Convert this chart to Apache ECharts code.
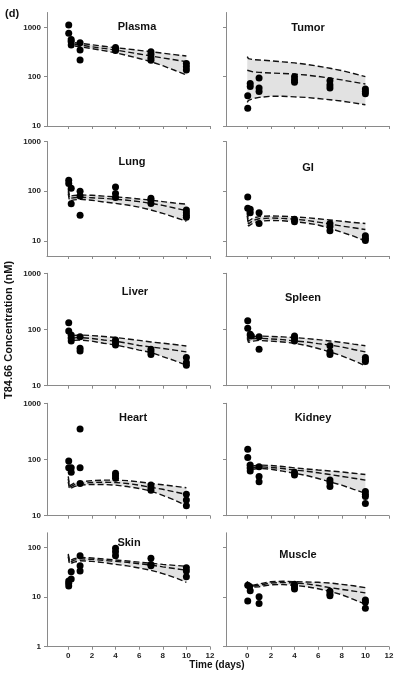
<!DOCTYPE html>
<html><head><meta charset="utf-8">
<script src="https://cdn.jsdelivr.net/npm/echarts@6/dist/echarts.min.js"></script>
<style>html,body{margin:0;padding:0;background:#fff}#c{width:400px;height:681px}</style>
</head><body><div id="c"></div>
<script>
// ---- data ----
const simTimes = [0, 0.1, 0.5, 1, 2, 3, 4, 5, 6, 7, 8, 9, 10];
const xTicks = [0, 2, 4, 6, 8, 10, 12];

const plasmaObs = [[0.04,1110],[0.04,755],[0.25,570],[0.25,510],[0.25,440],[1,487],[1,347],[1,218],[4,392],[4,360],[4,340],[7,320],[7,280],[7,240],[7,215],[10,186],[10,159],[10,136]];
const plasmaUpper = [600,520,490,474,443,414,387,364,342,321,300,280,262];
const plasmaMedian = [560,480,455,438,404,374,347,317,289,262,240,220,201];
const plasmaLower = [520,450,420,405,370,337,306,268,234,201,167,135,108];

const tumorObs = [[0.04,41],[0.04,23],[0.25,73],[0.25,63],[1,94],[1,59],[1,50],[4,100],[4,86],[4,77],[7,83],[7,68],[7,59],[10,56],[10,50],[10,45]];
const tumorUpper = [255,232,222,218,210,200,190,178,163,148,133,116,100];
const tumorMedian = [135,128,125,122,119,116,113,108,101,94,86,78,71];
const tumorLower = [30,33,36,38,40,40,39,38,36,34,32,29.5,27];

const lungObs = [[0.04,166],[0.04,143],[0.25,115],[0.25,56],[1,100],[1,80],[1,33],[4,122],[4,90],[4,75],[7,72],[7,66],[7,57],[10,42],[10,37],[10,33],[10,30]];
const lungUpper = [110,80,82,84,83,80,77,74,70,66,62,58,55];
const lungMedian = [100,72,74,76,74,72,69,66,62,57,52,46,41];
const lungLower = [90,64,67,69,66,61,57,53,48,42,36,30,25];

const giObs = [[0.04,77],[0.04,45.5],[0.25,43.5],[0.25,37],[1,37],[1,22.5],[4,27.5],[4,24.5],[7,22.5],[7,19.5],[7,16],[10,12.7],[10,11.4],[10,10.3]];
const giUpper = [40,25,29,31,32,31.5,30.5,29.5,28,26.5,25,23.5,22.5];
const giMedian = [36,22,26,28,29,28.5,27.5,26,24,22,20,18.5,17];
const giLower = [32,20,23,25,26,25.5,24.5,23,21,18,15,12.5,10];

const liverObs = [[0.04,132],[0.04,94],[0.25,80],[0.25,70],[0.25,62.5],[1,74],[1,46.5],[1,41.5],[4,65],[4,59],[4,53],[7,44.5],[7,40],[7,36],[10,31.6],[10,26],[10,23]];
const liverUpper = [90,76,78,80,78,75,72,68,64,60,57,54,51];
const liverMedian = [82,69,71,72,69,65,62,57,52,49,46,43,40];
const liverLower = [75,63,64,65,62,57,53,48,43,39,33,28,23];

const spleenObs = [[0.04,143],[0.04,105],[0.25,82],[0.35,77],[1,74],[1,44.5],[4,77],[4,70],[4,62.5],[7,51.5],[7,40],[7,36],[10,31.6],[10,29],[10,27]];
const spleenUpper = [80,70,74,77,75,74,72,69,66,62.5,59,55,51.5];
const spleenMedian = [75,64,68,70,68,66,62.5,60,56,53,49,44,40];
const spleenLower = [70,59,62,64,62,60,57,52,46,40,34,28,22.5];

const heartObs = [[0.04,94],[0.04,71],[0.25,71],[0.25,59.5],[1,349],[1,71],[1,37.5],[4,57],[4,51.5],[4,46.5],[7,35],[7,31.5],[7,28.5],[10,24],[10,19],[10,15]];
const heartUpper = [50,34,38,40,42,43,43,42,40,37.5,35.5,33.5,31.5];
const heartMedian = [45,32,35.5,37.5,39,39.5,39,37.5,35,32,29.5,26.5,24];
const heartLower = [40,30,33,35,36,36,35,33,30.5,27.5,23,19,15];

const kidneyObs = [[0.04,152],[0.04,108],[0.25,80],[0.25,70],[0.25,62.5],[1,74.5],[1,50],[1,40],[4,59.5],[4,53],[7,43],[7,38.5],[7,33],[10,27],[10,24],[10,22],[10,16.5]];
const kidneyUpper = [85,72,77,80,78,75,71,68,65,62.5,60,57,54];
const kidneyMedian = [80,68,72,74.5,72,69,65,62,58,54,50,46.5,43];
const kidneyLower = [75,64,67,70,67,62,57,52,46,40,35,29.5,25];

const skinObs = [[0.04,21.2],[0.04,19.1],[0.04,16.8],[0.25,23.3],[0.25,32.8],[1,69],[1,43.3],[1,33.8],[4,97],[4,83],[4,69],[7,61],[7,46],[7,43.3],[10,39.5],[10,33.8],[10,26]];
const skinUpper = [75,54,60,64,62,59,56.5,54,51,48.5,46,44,42];
const skinMedian = [70,50,56,60,58,55.5,53,50.5,47.5,44.7,41,38,35];
const skinLower = [65,47,51,54.6,53,50,46,43,39,35,30,25,20];

const muscleObs = [[0.04,17.5],[0.04,8.4],[0.2,16.5],[0.25,13.5],[1,10.2],[1,7.5],[4,18.2],[4,16.3],[4,14.6],[7,13.2],[7,11.6],[7,10.7],[10,8.8],[10,7.9],[10,6.0]];
const muscleUpper = [21,16.5,17.5,18.5,20.5,21,20.6,20.3,20,19.4,18.2,17,15.6];
const muscleMedian = [19,15.8,16.8,17.4,19.4,19.8,19.4,18.6,17.2,15.6,14.4,13.3,12.2];
const muscleLower = [17,15,16,16.3,17.8,18,17.4,16.3,14.8,13.2,11.2,9,7.2];

const panelNames = ['Plasma','Tumor','Lung','GI','Liver','Spleen','Heart','Kidney','Skin','Muscle'];
const panelObs = [plasmaObs,tumorObs,lungObs,giObs,liverObs,spleenObs,heartObs,kidneyObs,skinObs,muscleObs];
const panelUpper = [plasmaUpper,tumorUpper,lungUpper,giUpper,liverUpper,spleenUpper,heartUpper,kidneyUpper,skinUpper,muscleUpper];
const panelMedian = [plasmaMedian,tumorMedian,lungMedian,giMedian,liverMedian,spleenMedian,heartMedian,kidneyMedian,skinMedian,muscleMedian];
const panelLower = [plasmaLower,tumorLower,lungLower,giLower,liverLower,spleenLower,heartLower,kidneyLower,skinLower,muscleLower];
const rowYMin = [10, 5, 10, 10, 1];
const rowYMax = [2000, 1000, 1000, 1000, 200];
const rowYTicks = [[10,100,1000],[10,100,1000],[10,100,1000],[10,100,1000],[1,10,100]];

// ---- layout ----
const colLeft = [47, 226];
const colWidth = 163;
const rowTop = [12.5, 141.5, 273.3, 403.3, 532.8];
const rowHeight = [113.5, 114.5, 112.4, 112.4, 113.9];
const titlePos = [[137,27],[308,28],[132,162],[308,168],[135,292],[303,298],[133,418],[313,418],[129,543],[298,555]];
const FONT = '"Liberation Sans", Arial, sans-serif';
const AXIS_COLOR = '#8a8a8a';

const grids = [], xAxes = [], yAxes = [], series = [], graphics = [];
for (let i = 0; i < 10; i++) {
  const row = Math.floor(i / 2), col = i % 2;
  grids.push({left: colLeft[col], top: rowTop[row], width: colWidth, height: rowHeight[row], containLabel: false});
  xAxes.push({
    type: 'value', gridIndex: i, min: -1.8, max: 12,
    splitLine: {show: false},
    axisLine: {show: true, onZero: false, lineStyle: {color: AXIS_COLOR, width: 1}},
    axisTick: {show: true, inside: false, length: 3, customValues: xTicks, lineStyle: {color: AXIS_COLOR}},
    axisLabel: {show: row === 4, customValues: xTicks, margin: 5, fontSize: 8, fontWeight: 'bold', color: '#222', fontFamily: FONT}
  });
  yAxes.push({
    type: 'log', logBase: 10, gridIndex: i, min: rowYMin[row], max: rowYMax[row],
    splitLine: {show: false},
    axisLine: {show: true, onZero: false, lineStyle: {color: AXIS_COLOR, width: 1}},
    axisTick: {show: true, inside: false, length: 3, customValues: rowYTicks[row], lineStyle: {color: AXIS_COLOR}},
    axisLabel: {show: col === 0, customValues: rowYTicks[row], formatter: v => String(Math.round(v)), margin: 6, fontSize: 8, fontWeight: 'bold', color: '#222', fontFamily: FONT}
  });
  const lo = panelLower[i], up = panelUpper[i], md = panelMedian[i];
  // shaded band between lower and upper curves, placed through the axes' scales
  series.push({
    type: 'custom', xAxisIndex: i, yAxisIndex: i, silent: true, z: 1,
    data: [[simTimes[0], lo[0]]],
    renderItem: (params, api) => {
      const pts = [];
      simTimes.forEach((t, k) => pts.push(api.coord([t, up[k]])));
      for (let k = simTimes.length - 1; k >= 0; k--) pts.push(api.coord([simTimes[k], lo[k]]));
      return {type: 'polygon', shape: {points: pts}, style: {fill: '#e2e2e2', stroke: null}};
    }
  });
  [up, md, lo].forEach(arr => {
    series.push({type: 'line', xAxisIndex: i, yAxisIndex: i, data: simTimes.map((t,k)=>[t, arr[k]]),
      symbol: 'none', lineStyle: {color: '#111', width: 1.4, type: [6, 3]}, silent: true, z: 2});
  });
  series.push({type: 'scatter', xAxisIndex: i, yAxisIndex: i, data: panelObs[i], symbol: 'circle', symbolSize: 7,
    itemStyle: {color: '#000', opacity: 1}, silent: true, z: 3});
  graphics.push({type: 'text', x: titlePos[i][0], y: titlePos[i][1],
    style: {text: panelNames[i], font: 'bold 11px ' + FONT, fill: '#111', textAlign: 'center', textVerticalAlign: 'middle'}});
}
graphics.push({type: 'text', x: 5, y: 14, style: {text: '(d)', font: 'bold 11px ' + FONT, fill: '#111', textAlign: 'left', textVerticalAlign: 'middle'}});
graphics.push({type: 'text', x: 9, y: 330, rotation: Math.PI / 2,
  style: {text: 'T84.66 Concentration (nM)', font: 'bold 11px ' + FONT, fill: '#111', textAlign: 'center', textVerticalAlign: 'middle'}});
graphics.push({type: 'text', x: 217, y: 665, style: {text: 'Time (days)', font: 'bold 10px ' + FONT, fill: '#111', textAlign: 'center', textVerticalAlign: 'middle'}});

const chart = echarts.init(document.getElementById('c'), null, {renderer: 'canvas'});
chart.setOption({animation: false, backgroundColor: '#fff', grid: grids, xAxis: xAxes, yAxis: yAxes, series: series, graphic: graphics});
</script></body></html>
